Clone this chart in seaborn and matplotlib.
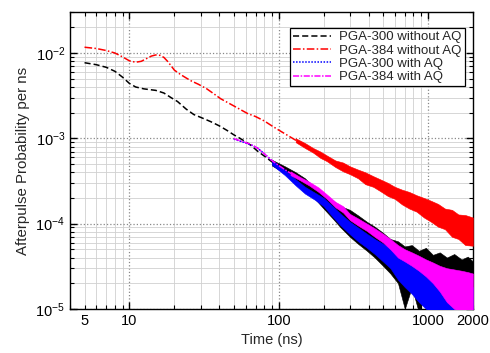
import numpy as np
import pandas as pd
import seaborn as sns
import matplotlib.pyplot as plt
from matplotlib.ticker import LogLocator, FuncFormatter, NullFormatter

# PGA-300 without AQ: smooth part, then noisy band (lower / upper edge)
t_300 = [5, 6, 7, 8, 9, 10, 11, 12.5, 15, 17, 19, 21, 24, 27, 31, 35, 40, 45, 50, 55,
         60, 65, 72, 80, 90, 98]
p_300 = [0.0077, 0.0073, 0.0068, 0.0061, 0.0052, 0.0044, 0.0040, 0.0038, 0.00365,
         0.0034, 0.0030, 0.0027, 0.0022, 0.00190, 0.00172, 0.00157, 0.00140, 0.00124,
         0.00110, 0.00100, 0.00091, 0.00083, 0.00071, 0.00062, 0.00053, 0.00047]
band_t_300 = [90, 110, 130, 150, 175, 200, 230, 260, 300, 340, 390, 440, 500, 560, 630,
              700, 780, 870, 970, 1080, 1200, 1340, 1500, 1680, 1850, 2000]
band_lo_300 = [4.8e-4, 3.9e-4, 3.1e-4, 2.5e-4, 1.95e-4, 1.5e-4, 1.15e-4, 9.0e-5, 7.0e-5,
               5.8e-5, 4.8e-5, 4.0e-5, 3.2e-5, 2.6e-5, 2.0e-5, 1.0e-5, 1.8e-5, 9e-6,
               1.6e-5, 1.5e-5, 1.6e-5, 1.8e-5, 1.7e-5, 1.8e-5, 1.6e-5, 1.7e-5]
band_hi_300 = [5.6e-4, 4.7e-4, 4.0e-4, 3.4e-4, 2.6e-4, 2.2e-4, 1.85e-4, 1.6e-4, 1.45e-4,
               1.25e-4, 1.05e-4, 9.2e-5, 7.8e-5, 6.6e-5, 6.2e-5, 5.4e-5, 5.6e-5, 4.8e-5,
               5.2e-5, 4.3e-5, 4.6e-5, 4.0e-5, 4.4e-5, 3.8e-5, 4.1e-5, 3.6e-5]

# PGA-384 without AQ
t_384 = [5, 6, 7, 8, 9, 10, 11, 12, 13, 14, 15, 16, 17, 18, 19, 20, 22, 24, 26, 29, 33,
         37, 41, 46, 50, 56, 62, 70, 80, 90, 100, 115, 130, 150]
p_384 = [0.0117, 0.0113, 0.0107, 0.0100, 0.0090, 0.0081, 0.0078, 0.0080, 0.0086, 0.0092,
         0.0095, 0.0094, 0.0089, 0.0080, 0.0071, 0.0063, 0.0056, 0.0051, 0.0047, 0.0043,
         0.0038, 0.0033, 0.0029, 0.0026, 0.0024, 0.00215, 0.00195, 0.00180, 0.00160,
         0.00140, 0.00125, 0.00108, 0.00095, 0.00082]
band_t_384 = [130, 150, 170, 190, 210, 240, 270, 300, 340, 380, 430, 480, 540, 600, 670,
              750, 840, 940, 1050, 1170, 1300, 1450, 1600, 1780, 2000]
band_lo_384 = [0.00090, 0.00077, 0.00068, 0.00059, 0.00054, 0.00046, 0.00041, 0.00038,
               0.00034, 0.00029, 0.00027, 0.00024, 0.00021, 0.000195, 0.000168, 0.000150,
               0.000138, 0.000118, 0.000105, 9.2e-5, 8.6e-5, 7.0e-5, 6.6e-5, 5.6e-5, 5.5e-5]
band_hi_384 = [0.00100, 0.00088, 0.00077, 0.00070, 0.00063, 0.00055, 0.00052, 0.00047,
               0.00043, 0.00040, 0.00036, 0.00033, 0.00030, 0.000270, 0.000250, 0.000235,
               0.000215, 0.000200, 0.000185, 0.000170, 0.000150, 0.000145, 0.000128,
               0.000126, 0.000118]

# PGA-300 with AQ
t_300aq = [50, 58, 65, 72, 80, 90, 98]
p_300aq = [0.00098, 0.00090, 0.00084, 0.00077, 0.00066, 0.00055, 0.00049]
band_t_300aq = [90, 110, 130, 150, 175, 200, 230, 260, 300, 340, 390, 440, 500, 560, 630,
                700, 780, 870, 970, 1080, 1200, 1340, 1500, 1680, 1850, 2000]
band_lo_300aq = [4.9e-4, 3.7e-4, 2.8e-4, 2.25e-4, 1.9e-4, 1.6e-4, 1.2e-4, 9.5e-5, 7.5e-5,
                 6.2e-5, 5.2e-5, 4.4e-5, 3.6e-5, 3.0e-5, 2.2e-5, 1.8e-5, 1.5e-5, 1.2e-5,
                 1.0e-5, 9e-6, 9e-6, 9e-6, 9e-6, 9e-6, 9e-6, 9e-6]
band_hi_300aq = [5.5e-4, 4.3e-4, 3.3e-4, 2.7e-4, 2.3e-4, 2.0e-4, 1.6e-4, 1.3e-4, 1.05e-4,
                 9.0e-5, 7.6e-5, 6.6e-5, 5.8e-5, 5.2e-5, 4.8e-5, 4.4e-5, 4.0e-5, 3.5e-5,
                 3.1e-5, 2.8e-5, 2.5e-5, 2.3e-5, 2.1e-5, 2.0e-5, 1.9e-5, 1.8e-5]

# PGA-384 with AQ
t_384aq = [50, 58, 65, 72, 80, 90, 100, 110, 120, 130]
p_384aq = [0.00099, 0.00091, 0.00085, 0.00077, 0.00066, 0.00055, 0.00048, 0.00043,
           0.00039, 0.00036]
band_t_384aq = [120, 140, 160, 185, 210, 240, 270, 300, 340, 390, 440, 500, 560, 630, 700,
                780, 870, 970, 1080, 1200, 1340, 1500, 1680, 1850, 2000]
band_lo_384aq = [3.7e-4, 3.2e-4, 2.8e-4, 2.35e-4, 1.95e-4, 1.55e-4, 1.35e-4, 1.1e-4,
                 9.5e-5, 8.2e-5, 7.0e-5, 6.0e-5, 5.0e-5, 4.0e-5, 3.6e-5, 3.2e-5, 2.8e-5,
                 2.4e-5, 2.0e-5, 1.6e-5, 1.2e-5, 1.0e-5, 9e-6, 9e-6, 9e-6]
band_hi_384aq = [4.1e-4, 3.5e-4, 3.1e-4, 2.65e-4, 2.2e-4, 1.8e-4, 1.6e-4, 1.3e-4,
                 1.15e-4, 1.0e-4, 8.8e-5, 7.6e-5, 6.6e-5, 5.6e-5, 5.0e-5, 4.6e-5, 4.2e-5,
                 3.8e-5, 3.5e-5, 3.2e-5, 3.0e-5, 2.9e-5, 2.8e-5, 2.7e-5, 2.6e-5]

sns.set_style("ticks")
plt.rcParams['font.family'] = ['Liberation Sans', 'DejaVu Sans']
plt.rcParams['mathtext.fontset'] = 'custom'
plt.rcParams['mathtext.rm'] = 'Liberation Sans'
plt.rcParams['mathtext.it'] = 'Liberation Sans:italic'

fig, ax = plt.subplots(figsize=(4.9, 3.53), dpi=100)
fig.subplots_adjust(left=0.143, right=0.965, bottom=0.125, top=0.965)

series = [
    ("PGA-300 without AQ", t_300, p_300, band_t_300, band_lo_300, band_hi_300, "black", (4, 2)),
    ("PGA-384 without AQ", t_384, p_384, band_t_384, band_lo_384, band_hi_384, "red", (5, 1.5, 1, 1.5)),
    ("PGA-300 with AQ", t_300aq, p_300aq, band_t_300aq, band_lo_300aq, band_hi_300aq, "blue", (1, 1)),
    ("PGA-384 with AQ", t_384aq, p_384aq, band_t_384aq, band_lo_384aq, band_hi_384aq, "magenta", (4, 1, 1, 1)),
]

for i, (name, t, p, bt, lo, hi, c, dash) in enumerate(series):
    df = pd.DataFrame({"t": t, "p": p})
    sns.lineplot(data=df, x="t", y="p", color=c, lw=1.1, ax=ax, label=name,
                 dashes=False, linestyle=(0, dash), zorder=3 + i)
    ax.fill_between(bt, lo, hi, color=c, lw=0.4, edgecolor=c, zorder=3 + i)

ax.set_xscale("log")
ax.set_yscale("log")
ax.set_xlim(4, 2000)
ax.set_ylim(1e-5, 3e-2)

ax.xaxis.set_major_locator(LogLocator(base=10, numticks=10))
ax.xaxis.set_minor_locator(LogLocator(base=10, subs=np.arange(2, 10), numticks=20))
ax.xaxis.set_major_formatter(FuncFormatter(lambda v, pos: f"{v:g}"))
ax.xaxis.set_minor_formatter(FuncFormatter(lambda v, pos: f"{v:g}" if round(v) in (5, 2000) else ""))
ax.yaxis.set_minor_locator(LogLocator(base=10, subs=np.arange(2, 10), numticks=20))
ax.yaxis.set_minor_formatter(NullFormatter())

ax.grid(which="major", color="#888888", linestyle=":", lw=0.9)
ax.grid(which="minor", color="#d0d0d0", linestyle="-", lw=0.6)
ax.set_axisbelow(True)

ax.tick_params(which="both", direction="in", top=True, right=True, labelsize=10.5, colors="black")
ax.tick_params(which="major", length=5, width=1)
ax.tick_params(which="minor", length=3, width=0.8)
for s in ax.spines.values():
    s.set_linewidth(1)
    s.set_color("black")

ax.set_xlabel("Time (ns)", fontsize=10.5)
ax.set_ylabel("Afterpulse Probability per ns", fontsize=10.8)

leg = ax.legend(loc="upper right", bbox_to_anchor=(0.98, 0.948), borderaxespad=0,
                fontsize=9.5, frameon=True, fancybox=False, framealpha=1,
                edgecolor="black", handlelength=2.9, borderpad=0.25, labelspacing=0.08,
                handletextpad=0.6)
leg.get_frame().set_linewidth(0.9)
leg.set_zorder(20)

fig.savefig("out.png", dpi=100)
